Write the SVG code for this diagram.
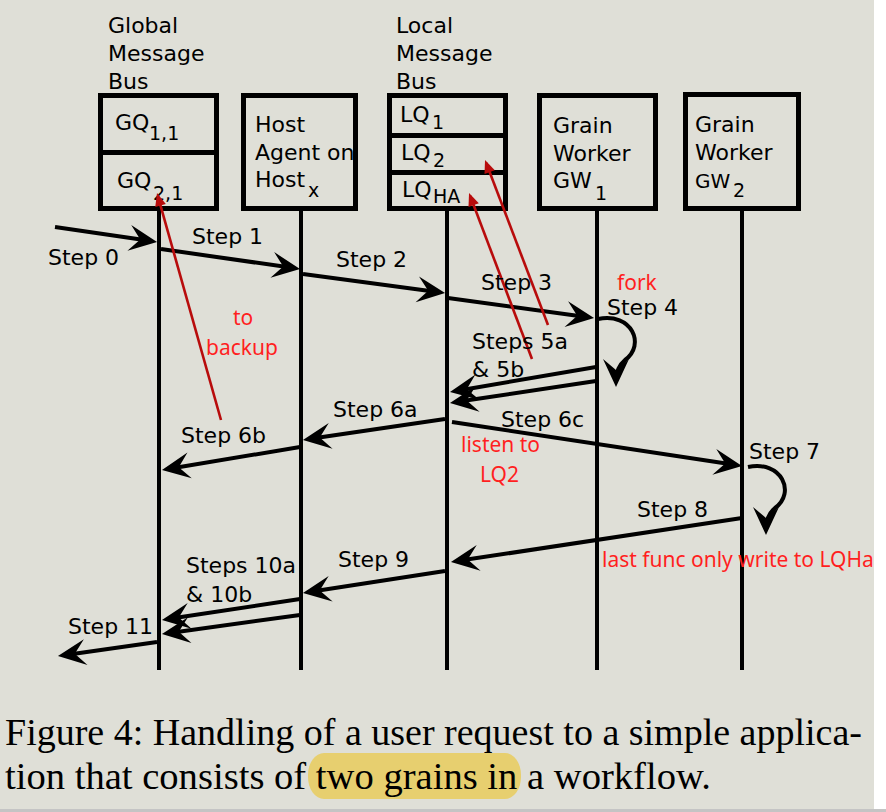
<svg xmlns="http://www.w3.org/2000/svg" width="886" height="812" viewBox="0 0 886 812">
<style>
.t{font-family:"DejaVu Sans","Liberation Sans",sans-serif;font-size:22px;fill:#000}
.s{font-size:19px}
.r{font-family:"Noto Sans","Open Sans",sans-serif;font-size:21px;fill:#ff1f1f}
.box{fill:none;stroke:#000;stroke-width:5}
.life{stroke:#000;stroke-width:4;fill:none}
.arr{stroke:#000;stroke-width:4;fill:none;marker-end:url(#ah)}
.red{stroke:#b80c0c;stroke-width:2.6;fill:none;marker-end:url(#rh)}
.cap{font-family:"Liberation Serif","Times New Roman",serif;font-size:37px;fill:#000}
</style>
<defs>
<marker id="ah" markerUnits="userSpaceOnUse" viewBox="-30 -16 40 32" refX="0" refY="0" markerWidth="40" markerHeight="32" orient="auto" overflow="visible">
<path d="M6,0 L-22,-13 L-11,0 L-22,13 Z" fill="#000"/>
</marker>
<marker id="rh" markerUnits="userSpaceOnUse" viewBox="-14 -8 20 16" refX="0" refY="0" markerWidth="20" markerHeight="16" orient="auto" overflow="visible">
<path d="M3,0 L-10,-5.5 L-10,5.5 Z" fill="#b80c0c"/>
</marker>
</defs>
<rect x="0" y="0" width="886" height="812" fill="#ffffff"/>
<rect x="0" y="0" width="874" height="809" fill="#dfdfd7"/>
<rect x="0" y="809" width="886" height="3" fill="#c4c4c4"/>

<g id="global-bus">
<text class="t" x="108" y="33">Global</text>
<text class="t" x="108" y="61">Message</text>
<text class="t" x="108" y="89">Bus</text>
<rect class="box" x="100.5" y="95.5" width="116" height="113"/>
<line class="box" x1="100.5" y1="152.5" x2="216.5" y2="152.5"/>
<text class="t" x="115" y="130">GQ<tspan class="s" x="149" y="140">1,1</tspan></text>
<text class="t" x="117" y="188">GQ<tspan class="s" x="153" y="200">2,1</tspan></text>
<line class="life" x1="159" y1="211" x2="159" y2="670"/>
</g>

<g id="host-agent">
<rect class="box" x="243.5" y="95.5" width="112" height="113"/>
<text class="t" x="255" y="132">Host</text>
<text class="t" x="255" y="160">Agent on</text>
<text class="t" x="255" y="187">Host<tspan class="s" x="308" y="197">x</tspan></text>
<line class="life" x1="301" y1="211" x2="301" y2="670"/>
</g>

<g id="local-bus">
<text class="t" x="396" y="33">Local</text>
<text class="t" x="396" y="61">Message</text>
<text class="t" x="396" y="89">Bus</text>
<rect class="box" x="389.5" y="95.5" width="116" height="113"/>
<line class="box" x1="389.5" y1="135.5" x2="505.5" y2="135.5"/>
<line class="box" x1="389.5" y1="172.5" x2="505.5" y2="172.5"/>
<text class="t" x="400" y="122">LQ<tspan class="s" x="432" y="129">1</tspan></text>
<text class="t" x="401" y="160">LQ<tspan class="s" x="433" y="167">2</tspan></text>
<text class="t" x="402" y="197">LQ<tspan class="s" x="433" y="203">HA</tspan></text>
<line class="life" x1="447" y1="211" x2="447" y2="670"/>
</g>

<g id="gw1">
<rect class="box" x="539.5" y="95.5" width="116" height="113"/>
<text class="t" x="553" y="133">Grain</text>
<text class="t" x="553" y="161">Worker</text>
<text class="t" x="553" y="188">GW<tspan class="s" x="595" y="200">1</tspan></text>
<line class="life" x1="597" y1="211" x2="597" y2="670"/>
</g>

<g id="gw2">
<rect class="box" x="685.5" y="94.5" width="113" height="114"/>
<text class="t" x="695" y="132">Grain</text>
<text class="t" x="695" y="160">Worker</text>
<text class="t" x="695" y="188" style="font-size:20px">GW<tspan class="s" x="733" y="197">2</tspan></text>
<line class="life" x1="742" y1="211" x2="742" y2="670"/>
</g>

<g id="connectors">
<line class="arr" x1="55" y1="227" x2="151.1" y2="241.1"/>
<line class="arr" x1="161" y1="249" x2="294.1" y2="268.1"/>
<line class="arr" x1="303" y1="274" x2="439.1" y2="292.2"/>
<line class="arr" x1="448" y1="298" x2="588.1" y2="317.2"/>
<path class="arr" d="M598,319 C632,312 646,345 625,360 C619,365 616,372 616,381"/>
<line class="arr" x1="596" y1="367" x2="455.9" y2="391"/>
<line class="arr" x1="596" y1="381" x2="455.9" y2="402.1"/>
<line class="arr" x1="445" y1="419" x2="308.9" y2="439.1"/>
<line class="arr" x1="300" y1="447" x2="167.9" y2="469"/>
<line class="arr" x1="452" y1="422" x2="736.1" y2="465.1"/>
<path class="arr" d="M748,467 C782,460 796,493 775,508 C769,513 766,520 766,529"/>
<line class="arr" x1="742" y1="518" x2="456.9" y2="561.1"/>
<line class="arr" x1="445" y1="571" x2="308.9" y2="592.1"/>
<line class="arr" x1="300" y1="599" x2="167.9" y2="619.1"/>
<line class="arr" x1="300" y1="615" x2="167.9" y2="633.2"/>
<line class="arr" x1="157" y1="642" x2="63.9" y2="655.2"/>
<line class="red" x1="221" y1="420" x2="157.8" y2="195.9"/>
<line class="red" x1="548" y1="325" x2="486.1" y2="162.8"/>
<line class="red" x1="532" y1="359" x2="470.1" y2="195.8"/>
</g>

<g id="labels">
<text class="t" x="48" y="265">Step 0</text>
<text class="t" x="192" y="244">Step 1</text>
<text class="t" x="336" y="267">Step 2</text>
<text class="t" x="481" y="290">Step 3</text>
<text class="t" x="607" y="315">Step 4</text>
<text class="t" x="472" y="349">Steps 5a</text>
<text class="t" x="472" y="377">&amp; 5b</text>
<text class="t" x="333" y="417">Step 6a</text>
<text class="t" x="181" y="443">Step 6b</text>
<text class="t" x="501" y="427">Step 6c</text>
<text class="t" x="749" y="459">Step 7</text>
<text class="t" x="637" y="517">Step 8</text>
<text class="t" x="338" y="567">Step 9</text>
<text class="t" x="186" y="573">Steps 10a</text>
<text class="t" x="186" y="602">&amp; 10b</text>
<text class="t" x="68" y="634">Step 11</text>
<text class="r" x="233" y="325">to</text>
<text class="r" x="206" y="355">backup</text>
<text class="r" x="617" y="290">fork</text>
<text class="r" x="461" y="452">listen to</text>
<text class="r" x="480" y="482">LQ2</text>
<text class="r" x="602" y="567">last func only write to LQHa</text>
</g>

<g id="caption">
<rect x="308" y="753" width="213" height="46" rx="16" ry="22" fill="#e7cf6f"/>
<text class="cap" x="5" y="745" textLength="857" lengthAdjust="spacingAndGlyphs">Figure 4: Handling of a user request to a simple applica-</text>
<text class="cap" x="5" y="789" textLength="706" lengthAdjust="spacingAndGlyphs">tion that consists of two grains in a workflow.</text>
</g>
</svg>
